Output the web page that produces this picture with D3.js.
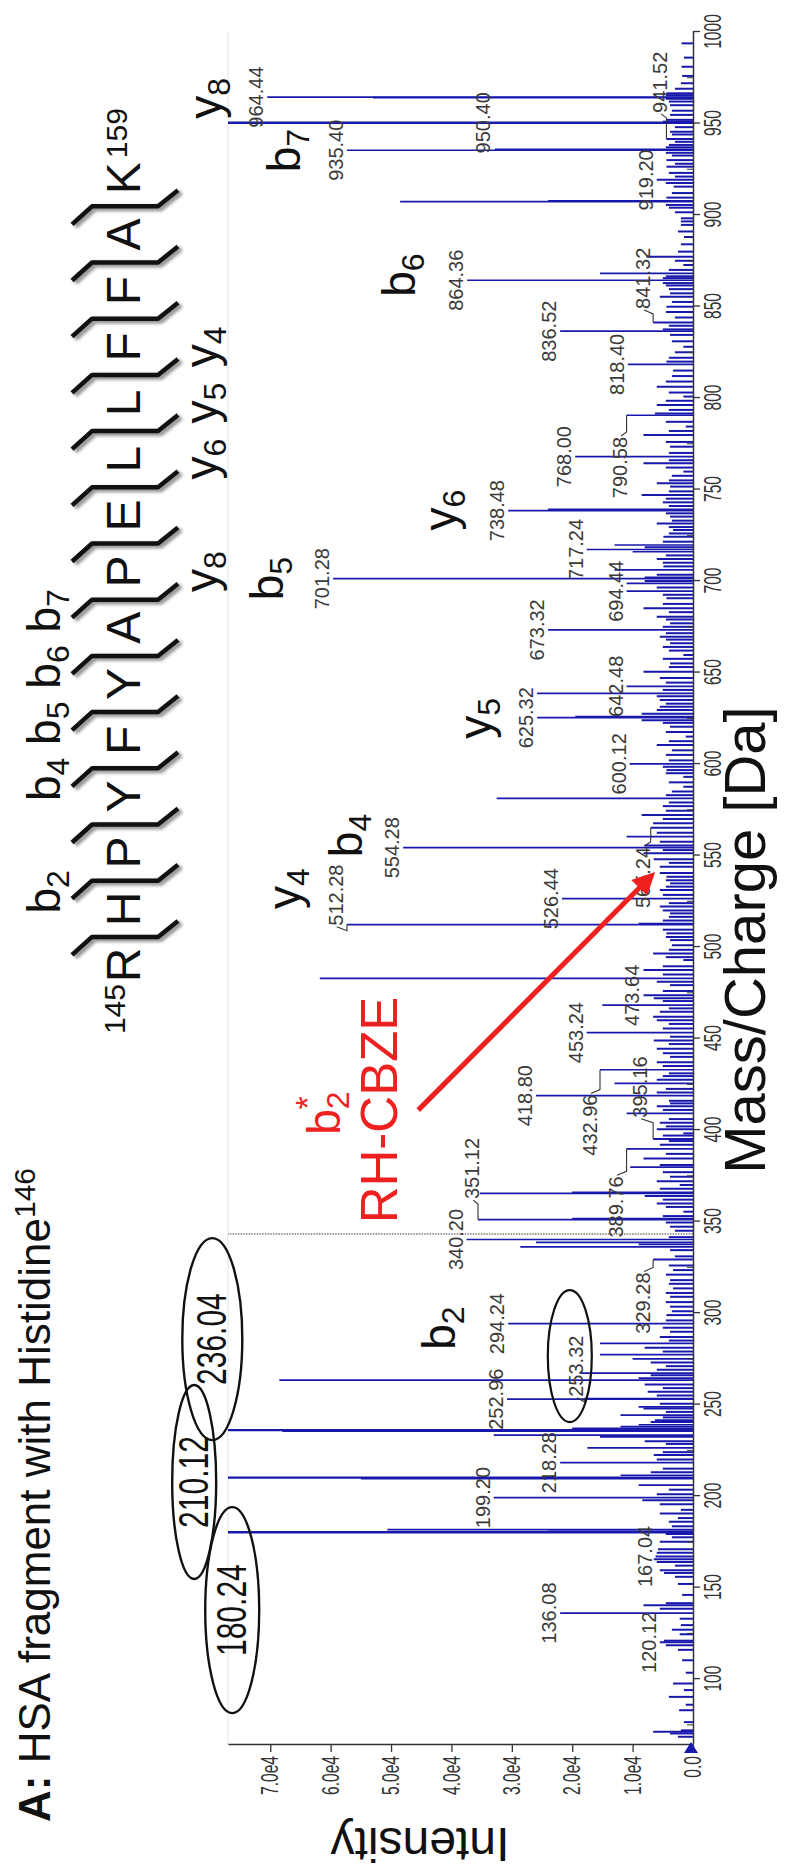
<!DOCTYPE html>
<html>
<head>
<meta charset="utf-8">
<title>HSA fragment with Histidine146</title>
<style>
  body { margin: 0; background: #fff; }
  svg text { font-family: "Liberation Sans", Arial, sans-serif; }
</style>
</head>
<body>
<svg width="787" height="1870"></svg>
<script src="https://cdn.jsdelivr.net/npm/d3@7"></script>
<script>
// ---- data ----
var peakMz = [
  68.5, 70.3, 71.2, 72.0, 76.5, 83.0, 86.0, 90.3, 94.0, 97.6, 103.5, 110.3, 116.0, 118.5, 120.12, 121.0,
  124.5, 127.0, 129.5, 133.0, 136.08, 138.5, 140.4, 141.5, 146.0, 152.0, 155.9, 158.0, 159.5, 162.0, 164.0,
  165.5, 167.04, 169.0, 171.0, 175.0, 177.5, 179.3, 180.24, 180.7, 181.7, 183.5, 186.0, 188.0, 190.5, 192.5,
  195.5, 197.8, 199.20, 201.0, 203.5, 206.0, 209.6, 210.12, 211.4, 213.0, 215.0, 218.28, 220.0, 222.5, 224.0,
  226.4, 228.5, 230.0, 232.4, 233.3, 235.5, 236.04, 237.0, 238.0, 239.0, 240.5, 241.5, 243.0, 244.2, 246.0,
  247.9, 248.8, 250.5, 252.96, 253.32, 255.0, 257.0, 259.0, 261.0, 263.4, 264.5, 266.0, 267.2, 269.0, 271.0,
  273.0, 275.0, 277.3, 279.0, 281.0, 283.4, 285.0, 287.0, 289.8, 292.0, 294.24, 296.0, 298.9, 301.0, 303.5,
  306.0, 308.9, 311.0, 313.5, 316.0, 318.0, 321.0, 323.5, 326.0, 329.28, 331.0, 334.4, 336.2, 337.5, 338.6,
  340.20, 341.5, 345.0, 347.2, 349.5, 351.12, 351.6, 353.0, 355.4, 358.0, 359.9, 362.0, 364.0, 365.4, 366.0,
  368.0, 370.0, 372.0, 374.5, 377.0, 379.8, 380.9, 384.5, 387.0, 389.76, 392.0, 394.0, 395.16, 397.0, 398.2,
  400.5, 402.0, 404.0, 406.0, 409.1, 411.0, 413.0, 414.6, 416.0, 418.80, 420.5, 422.5, 425.5, 427.5, 429.5,
  431.0, 432.96, 435.0, 437.0, 440.0, 442.0, 444.5, 447.0, 449.0, 451.0, 453.24, 455.5, 458.0, 460.0, 461.9,
  464.7, 466.5, 468.3, 470.5, 472.0, 473.64, 476.0, 479.2, 481.0, 482.9, 485.0, 487.4, 489.5, 492.9, 494.5,
  496.5, 498.5, 501.0, 503.8, 505.5, 507.5, 509.5, 512.28, 512.8, 514.5, 516.5, 518.4, 520.0, 522.1, 524.0,
  526.44, 528.5, 531.2, 533.0, 534.8, 536.5, 538.4, 540.5, 543.9, 546.0, 548.0, 551.2, 553.0, 554.28, 555.5,
  557.6, 560.3, 562.5, 565.24, 567.6, 570.0, 572.1, 574.5, 577.0, 579.0, 581.2, 583.0, 585.0, 587.6, 590.0,
  593.0, 595.0, 596.7, 598.5, 600.12, 602.0, 605.0, 607.5, 610.4, 612.5, 615.0, 617.5, 620.4, 622.5, 624.0,
  625.32, 625.9, 627.5, 629.5, 631.3, 633.0, 635.0, 637.0, 638.6, 640.5, 642.48, 644.5, 647.0, 650.5, 653.0,
  655.0, 657.5, 659.6, 662.0, 664.0, 666.0, 668.0, 669.6, 671.5, 673.32, 675.0, 676.9, 679.0, 680.5, 683.0,
  685.1, 687.5, 690.6, 692.5, 694.44, 696.5, 698.7, 700.0, 701.28, 702.0, 703.5, 706.1, 708.0, 710.0, 712.0,
  714.0, 716.0, 717.24, 718.5, 719.7, 721.5, 724.2, 726.0, 727.9, 729.5, 731.5, 733.0, 735.2, 737.0, 738.48,
  739.2, 741.0, 743.0, 745.0, 747.0, 749.0, 751.6, 753.4, 755.0, 757.5, 759.8, 762.0, 764.3, 766.0, 768.00,
  770.0, 773.4, 776.0, 779.8, 782.0, 784.4, 787.0, 790.58, 791.5, 793.5, 796.2, 798.5, 800.8, 803.0, 806.2,
  809.0, 812.0, 815.0, 818.40, 819.9, 822.0, 825.0, 828.0, 831.0, 834.5, 836.52, 837.5, 839.5, 841.32, 844.0,
  847.0, 849.9, 852.5, 855.4, 857.2, 859.5, 861.5, 862.8, 864.36, 865.5, 866.5, 868.1, 870.0, 872.7, 875.0,
  877.2, 880.0, 884.0, 888.0, 891.0, 894.6, 896.5, 898.2, 901.5, 904.0, 905.5, 907.3, 907.8, 909.5, 912.0,
  915.5, 917.5, 919.20, 921.0, 923.0, 926.4, 928.0, 930.0, 932.5, 934.0, 935.40, 935.9, 937.0, 938.3, 940.0,
  941.52, 944.0, 945.5, 948.0, 950.40, 951.0, 952.0, 954.7, 957.0, 960.0, 962.0, 963.5, 964.1, 964.44, 965.5,
  966.5, 969.0, 972.0, 976.0, 981.0, 986.0, 993.8
];
var peakInt = [
  2500, 3800, 6600, 2000, 1500, 2300, 1200, 4000, 1500, 3300, 1200, 1800, 2500, 4500, 5500, 4800,
  2200, 3500, 2000, 2200, 22000, 5500, 8200, 4500, 1800, 2500, 3000, 4800, 5500, 3000, 6000,
  6500, 6200, 6000, 5800, 5500, 3500, 4500, 92000, 24000, 50600, 3500, 4000, 2500, 5500, 2000,
  5500, 8400, 33000, 6000, 4000, 9000, 55000, 90000, 12000, 7000, 5000, 22000, 6000, 6500, 5000,
  17500, 4500, 8000, 15400, 33000, 68000, 88000, 20000, 12000, 9000, 7000, 6300, 5000, 12000, 4500,
  8200, 9000, 5500, 30800, 18000, 6000, 7500, 5000, 8000, 68500, 9000, 7000, 18700, 6000, 4500,
  7000, 10000, 15400, 5000, 8000, 15400, 4000, 5500, 3800, 5000, 30600, 4500, 4400, 3500, 3800,
  4500, 3800, 4500, 3300, 4000, 3800, 4500, 3300, 4000, 6600, 3000, 3800, 28600, 9000, 26000,
  37500, 4000, 3000, 3800, 4500, 35600, 20000, 5000, 1600, 4500, 6000, 5000, 8000, 35300, 20000,
  5500, 2200, 6000, 3800, 5000, 10400, 5500, 8200, 4500, 11000, 5500, 4000, 6600, 5000, 1600,
  6000, 4500, 5500, 4000, 11000, 5000, 6000, 3800, 4000, 26000, 6000, 4500, 13000, 6000, 5000,
  4000, 15400, 5000, 6000, 3800, 5000, 6000, 4000, 6500, 3800, 17600, 5000, 4000, 6000, 6600,
  5500, 4000, 15000, 5000, 6500, 8200, 5000, 3800, 6000, 61800, 5000, 8200, 5000, 1600, 4500,
  6600, 4000, 3500, 3800, 4500, 4400, 5000, 57300, 9000, 5000, 4000, 3800, 5000, 5500, 4000,
  21700, 5000, 5500, 4500, 3800, 4500, 4400, 5500, 5500, 4000, 6500, 8200, 5000, 48000, 8000,
  5500, 11000, 6000, 7000, 6600, 5000, 8500, 4500, 5000, 4000, 32500, 4500, 3500, 1600, 4000,
  1600, 4500, 4400, 5000, 10500, 4000, 4500, 3500, 6000, 4000, 1200, 4500, 3800, 5000, 8500,
  25800, 19500, 8500, 6000, 5500, 4500, 5500, 6000, 25800, 5000, 11000, 4500, 5500, 8200, 4000,
  3800, 5000, 1600, 4000, 5000, 3800, 4500, 5500, 4500, 24000, 5000, 3800, 4500, 6000, 4000,
  8200, 5000, 4400, 5000, 11000, 6000, 11000, 8000, 59600, 8000, 6000, 13000, 4900, 5000, 6000,
  4500, 10000, 17600, 8000, 13000, 5000, 4900, 4000, 3300, 4000, 6000, 3500, 3800, 4500, 30600,
  24000, 4000, 5000, 4500, 8500, 4000, 3800, 6000, 4000, 3500, 1600, 4500, 8200, 4000, 19500,
  4000, 3800, 4500, 8200, 4000, 1200, 4500, 11000, 6300, 4000, 6000, 4500, 1600, 4000, 6000,
  4500, 3500, 3300, 10800, 4400, 4000, 3000, 1600, 3500, 3800, 22000, 5000, 4000, 6600, 3000,
  4500, 4400, 3500, 5500, 3800, 4000, 4500, 5000, 37400, 5000, 4500, 15400, 4000, 1600, 3000,
  7700, 2500, 2000, 1500, 2500, 2000, 2000, 2000, 3000, 4000, 4500, 48500, 24000, 4400, 3500,
  3200, 4500, 6000, 3000, 4000, 4400, 3000, 4400, 3500, 4500, 57300, 32800, 4500, 4000, 3000,
  4400, 3500, 3800, 3000, 90000, 5000, 4400, 3800, 3500, 3800, 4000, 4500, 53000, 70500, 4500,
  4400, 3000, 2000, 1800, 1900, 1500, 1900
];

var mzTicks = [100, 150, 200, 250, 300, 350, 400, 450, 500, 550, 600, 650, 700, 750, 800, 850, 900, 950, 1000];
var mzMinorTicks = [75, 125, 175, 225, 275, 325, 375, 425, 475, 525, 575, 625, 675, 725, 775, 825, 875, 925, 975];
var intTicks = [0, 10000, 20000, 30000, 40000, 50000, 60000, 70000];
var intTickLabels = ['0.0', '1.0e4', '2.0e4', '3.0e4', '4.0e4', '5.0e4', '6.0e4', '7.0e4'];

// labels sitting straight above their peak
var peakLabels = ['964.44', '935.40', '919.20', '864.36', '836.52', '818.40', '768.00', '738.48', '717.24',
  '701.28', '694.44', '673.32', '642.48', '625.32', '600.12', '554.28', '526.44', '473.64', '453.24',
  '418.80', '340.20', '294.24', '252.96', '218.28', '199.20', '167.04', '136.08', '120.12'];
// labels set aside, with a leader: [text, peak m/z, label m/z, label intensity]
var calloutLabels = [
  ['950.40', 950.40, 950.4, 33600],
  ['941.52', 941.52, 972.5, 4300],
  ['841.32', 841.32, 865.4, 7100],
  ['790.58', 790.58, 762.0, 10900],
  ['512.28', 512.28, 528.4, 58000],
  ['565.24', 565.24, 538.0, 7100],
  ['432.96', 432.96, 402.7, 15900],
  ['395.16', 395.16, 423.5, 7600],
  ['389.76', 389.76, 358.0, 11600],
  ['351.12', 351.12, 379.0, 35400],
  ['329.28', 329.28, 305.5, 7100],
  ['253.32', 253.32, 271.0, 18200]
];
// circled off-scale peaks: [text, centre m/z, centre intensity]
var circledPeaks = [
  ['180.24', 137.7, 76300],
  ['210.12', 207.7, 82600],
  ['236.04', 285.8, 79600]
];
var circledSmall = ['253.32', 276.5, 20400];
var precursorMz = 343.2;

// fragment ions marked in the spectrum: [ion, number, m/z, intensity]
var ionMarks = [
  ['y', '8', 963.7, 78100],
  ['b', '7', 935.2, 65000],
  ['b', '6', 867.2, 46000],
  ['y', '6', 738.8, 39200],
  ['b', '5', 701.3, 67900],
  ['y', '5', 625.0, 33400],
  ['b', '4', 561.0, 54800],
  ['y', '4', 532.0, 65000],
  ['b', '2', 291.8, 39400]
];
var modIon = ['b', '2', '*', 409.3, 58400];
var modName = ['RH-CBZE', 411.0, 49000];
var arrowFrom = [410.9, 45500];
var arrowTo = [539.3, 6800];

// peptide
var residues = ['R', 'H', 'P', 'Y', 'F', 'Y', 'A', 'P', 'E', 'L', 'L', 'F', 'F', 'A', 'K'];
var firstNo = '145', lastNo = '159';
var bIons = [2, 4, 5, 6, 7];
var yIons = [8, 6, 5, 4];

// ---- drawing ----
var blue = '#1818ad';
var red = '#ee2020';
var svg = d3.select('svg');
// whole figure lies on its side: draw it upright, then turn it
var g = svg.append('g').attr('transform', 'translate(0,1870) rotate(-90)');

var defs = svg.append('defs');
defs.append('marker').attr('id', 'head').attr('viewBox', '0 0 10 10')
    .attr('refX', 8).attr('refY', 5).attr('markerWidth', 5).attr('markerHeight', 4.5)
    .attr('orient', 'auto').attr('markerUnits', 'strokeWidth')
  .append('path').attr('d', 'M0,0 L10,5 L0,10 Z').attr('fill', red);
defs.append('filter').attr('id', 'soft').append('feGaussianBlur').attr('stdDeviation', 1.6);

var x = d3.scaleLinear().domain([64, 1000]).range([125, 1838]);
var y = d3.scaleLinear().domain([0, 77000]).range([693, 228]);
var yMax = 77000;

// faint frame top
g.append('line').attr('x1', x(64)).attr('x2', x(1000)).attr('y1', y(yMax)).attr('y2', y(yMax))
    .attr('stroke', '#ececec').attr('stroke-width', 1.5);

// precursor marker
g.append('line').attr('x1', x(precursorMz)).attr('x2', x(precursorMz)).attr('y1', y(0)).attr('y2', y(yMax))
    .attr('stroke', '#777').attr('stroke-width', 1.6).attr('stroke-dasharray', '1.5,1.2');

// peaks
var peaks = peakMz.map(function(m, i) { return {mz: m, inten: peakInt[i]}; });
g.append('g').selectAll('line').data(peaks).join('line')
    .attr('x1', function(d) { return x(d.mz); })
    .attr('x2', function(d) { return x(d.mz); })
    .attr('y1', y(0))
    .attr('y2', function(d) { return y(Math.min(d.inten, yMax)); })
    .attr('stroke', blue)
    .attr('stroke-width', function(d) { return d.inten >= yMax ? 2.4 : (d.inten < 9000 ? 2 : 1.7); });

// axes
var xAxis = d3.axisBottom(x).tickValues(mzTicks).tickSize(7).tickSizeOuter(0).tickPadding(4)
    .tickFormat(d3.format('d'));
var gx = g.append('g').attr('transform', 'translate(0,' + y(0) + ')').call(xAxis);
gx.selectAll('text').attr('font-size', 24).attr('fill', '#333')
    .attr('transform', 'scale(0.65,1)');
g.append('g').selectAll('line').data(mzMinorTicks).join('line')
    .attr('x1', function(d) { return x(d); }).attr('x2', function(d) { return x(d); })
    .attr('y1', y(0)).attr('y2', y(0) - 6).attr('stroke', '#333');

var yAxis = d3.axisLeft(y).tickValues(intTicks).tickSize(7).tickSizeOuter(0).tickPadding(4)
    .tickFormat(function(d, i) { return intTickLabels[i]; });
var gy = g.append('g').attr('transform', 'translate(' + x(64) + ',0)').call(yAxis);
gy.selectAll('text').attr('font-size', 24).attr('fill', '#333')
    .attr('x', -11 / 0.65).attr('transform', 'scale(0.65,1)');
[gx, gy].forEach(function(a) {
  a.select('.domain').attr('stroke', '#333').attr('stroke-width', 1.5);
  a.selectAll('.tick line').attr('stroke', '#333').attr('stroke-width', 1.3);
  a.attr('font-family', null);
});

// origin marker
g.append('path')
    .attr('d', 'M' + (x(64) - 8) + ',' + (y(0) - 9) + ' L' + (x(64) - 8) + ',' + (y(0) + 5) + ' L' + (x(64) + 3) + ',' + (y(0) - 2) + ' Z')
    .attr('fill', blue);

// peak labels
var labelLayer = g.append('g').attr('font-size', 20).attr('fill', '#3a3a3a');
peakLabels.forEach(function(t) {
  var mz = +t;
  var top = peakInt[peakMz.indexOf(mz)];
  labelLayer.append('text').attr('x', x(mz)).attr('y', y(Math.min(top, yMax)) - 4)
      .attr('text-anchor', 'middle').text(t);
});
calloutLabels.forEach(function(c) {
  var lu = x(c[2]), lv = y(c[3]);
  var txt = labelLayer.append('text').attr('x', lu).attr('y', lv).attr('text-anchor', 'middle').text(c[0]);
  if (c[0] === '950.40') return;
  var half = txt.node().getComputedTextLength() / 2;
  var pu = x(c[1]), pv = y(peakInt[peakMz.indexOf(c[1])] || c[3]);
  var side = pu > lu ? 1 : -1;
  var su = lu + side * (half + 1);
  var pts = [[su, lv - 6], [su + side * 4, pv], [pu, pv]];
  labelLayer.append('path').attr('d', d3.line()(pts)).attr('fill', 'none')
      .attr('stroke', '#333').attr('stroke-width', 1.1);
});

// circled peaks
circledPeaks.forEach(function(c, i) {
  var cu = x(c[1]), cv = y(c[2]);
  var sizes = [[103, 27], [97, 22], [101, 30]];
  g.append('ellipse').attr('cx', cu).attr('cy', cv).attr('rx', sizes[i][0]).attr('ry', sizes[i][1])
      .attr('fill', 'none').attr('stroke', '#111').attr('stroke-width', 2.4);
  g.append('text').attr('transform', 'translate(' + cu + ',' + (cv + 14) + ') scale(1,1.4)')
      .attr('text-anchor', 'middle').attr('font-size', 30).attr('fill', '#111').text(c[0]);
});
g.append('ellipse').attr('cx', x(circledSmall[1])).attr('cy', y(circledSmall[2])).attr('rx', 66).attr('ry', 22)
    .attr('fill', 'none').attr('stroke', '#111').attr('stroke-width', 2.2);

// ion marks
function ion(u, v, letter, num, color, extra) {
  var t = g.append('text').attr('x', u).attr('y', v).attr('text-anchor', 'middle')
      .attr('font-size', 46).attr('fill', color);
  t.append('tspan').text(letter);
  t.append('tspan').attr('font-size', 32).attr('dy', 9).text(num);
  if (extra) t.append('tspan').attr('font-size', 34).attr('dx', -18).attr('dy', -30).text(extra);
  return t;
}
ionMarks.forEach(function(m) { ion(x(m[2]), y(m[3]), m[0], m[1], '#111'); });
ion(x(modIon[3]), y(modIon[4]), modIon[0], modIon[1], red, modIon[2]);
g.append('text').attr('x', x(modName[1])).attr('y', y(modName[2])).attr('text-anchor', 'middle')
    .attr('font-size', 51).attr('fill', red).text(modName[0]);
g.append('line').attr('x1', x(arrowFrom[0])).attr('y1', y(arrowFrom[1]))
    .attr('x2', x(arrowTo[0])).attr('y2', y(arrowTo[1]))
    .attr('stroke', red).attr('stroke-width', 5).attr('marker-end', 'url(#head)');

// axis titles
g.append('text').attr('x', 930).attr('y', 765).attr('text-anchor', 'middle')
    .attr('font-size', 58).attr('fill', '#111').text('Mass/Charge [Da]');
g.append('text').attr('transform', 'translate(42,420) rotate(-90)').attr('text-anchor', 'middle')
    .attr('font-size', 48).attr('fill', '#111').text('Intensity');

// panel title
var title = g.append('text').attr('x', 48).attr('y', 50).attr('font-size', 44).attr('fill', '#111');
title.append('tspan').attr('font-weight', 'bold').text('A:');
title.append('tspan').text(' HSA fragment with Histidine');
title.append('tspan').attr('font-size', 30).attr('dy', -15).text('146');

// peptide sequence with fragmentation marks
var step = 56.2, u0 = 905;
var seq = g.append('g');
residues.forEach(function(r, i) {
  seq.append('text').attr('x', u0 + i * step).attr('y', 140).attr('text-anchor', 'middle')
      .attr('font-size', 48).attr('fill', '#111').text(r);
});
seq.append('text').attr('x', u0 - 19).attr('y', 125).attr('text-anchor', 'end')
    .attr('font-size', 30).attr('fill', '#111').text(firstNo);
seq.append('text').attr('x', u0 + 14 * step + 20).attr('y', 127)
    .attr('font-size', 30).attr('fill', '#111').text(lastNo);
d3.range(residues.length - 1).forEach(function(i) {
  var u = u0 + i * step + step / 2;
  var d = 'M' + (u - 18) + ',72 L' + u + ',92 L' + u + ',158 L' + (u + 16) + ',178';
  seq.append('path').attr('d', d).attr('transform', 'translate(-2,3)').attr('fill', 'none')
      .attr('stroke', '#999').attr('stroke-width', 6).attr('filter', 'url(#soft)');
  seq.append('path').attr('d', d).attr('fill', 'none').attr('stroke', '#111')
      .attr('stroke-width', 4.5).attr('stroke-linejoin', 'round');
});
bIons.forEach(function(n) { ion(u0 + (n - 1) * step + 17, 60, 'b', n, '#111'); });
yIons.forEach(function(n) { ion(u0 + (residues.length - n) * step, 217, 'y', n, '#111'); });
</script>
</body>
</html>
